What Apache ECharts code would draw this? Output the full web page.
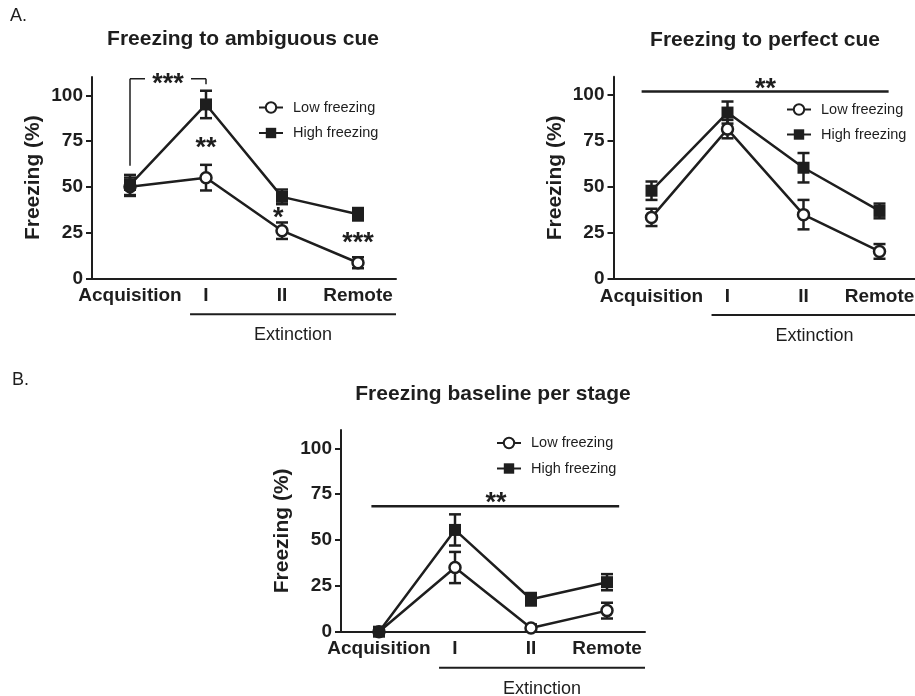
<!DOCTYPE html>
<html>
<head>
<meta charset="utf-8">
<script src="https://cdn.jsdelivr.net/npm/echarts@6/dist/echarts.min.js"></script>
<style>
html,body{margin:0;padding:0;background:#fff;}
#chart{width:915px;height:696px;}
</style>
</head>
<body>
<div id="chart"></div>
<script>
// ---------- data ----------
const categories = ['Acquisition', 'I', 'II', 'Remote'];
const yTicks = [0, 25, 50, 75, 100];
const seriesNames = ['Low freezing', 'High freezing'];

// Panel A1: Freezing to ambiguous cue
const ambLow = [50, 55, 26, 8.5];
const ambLowErr = [5, 7, 4.5, 3];
const ambHigh = [51, 95, 44.5, 35];
const ambHighErr = [5.5, 7.5, 4, 3.4];

// Panel A2: Freezing to perfect cue
const perLow = [33.5, 81.5, 35, 15];
const perLowErr = [4.7, 5, 8, 4];
const perHigh = [48, 90.5, 60.5, 37];
const perHighErr = [5, 6, 8, 4];

// Panel B: Freezing baseline per stage
const baseLow = [0, 35, 2, 11.5];
const baseLowErr = [0, 8.5, 2, 4.3];
const baseHigh = [0, 55.5, 17.7, 27];
const baseHighErr = [0, 8.5, 3.4, 4.4];

// significance annotations: lines [x1, y1, x2, y2] in (category index, value), texts [x, y, label]
const ambSigLines = [[0, 61.5, 0, 109], [0, 109, 1, 109], [1, 109, 1, 106]];
const ambSigTexts = [[0.5, 109, '***'], [1, 74, '**'], [1.95, 35.5, '*'], [3, 22, '***']];
const perSigLines = [[-0.13, 102, 3.12, 102]];
const perSigTexts = [[1.5, 106, '**']];
const baseSigLines = [[-0.1, 68.4, 3.16, 68.4]];
const baseSigTexts = [[1.54, 72.8, '**']];
const extinctionSpan = [0.79, 3.5];
const extinctionLabel = 'Extinction';

const titles = ['Freezing to ambiguous cue', 'Freezing to perfect cue', 'Freezing baseline per stage'];
const yName = 'Freezing (%)';

// ---------- styles ----------
const INK = '#1e1e1e';
const BOLD = 'Liberation Sans';
const REG = 'Liberation Sans';

const grids = [
  {left: 92, top: 77, width: 304, height: 201.3},
  {left: 613.5, top: 76.7, width: 304, height: 202.3},
  {left: 341, top: 430, width: 304, height: 201.7}
];

function xAxisCfg(i) {
  return {
    type: 'category', gridIndex: i, data: categories, boundaryGap: true,
    axisLine: {show: true, lineStyle: {color: INK, width: 2}},
    axisTick: {show: false},
    axisLabel: {color: INK, fontFamily: BOLD, fontWeight: 'bold', fontSize: 19, margin: 8, interval: 0},
    splitLine: {show: false}
  };
}
function yAxisCfg(i) {
  return {
    type: 'value', gridIndex: i, min: 0, max: 110,
    name: yName, nameLocation: 'middle', nameGap: 48,
    nameTextStyle: {color: INK, fontFamily: BOLD, fontWeight: 'bold', fontSize: 21},
    axisLine: {show: true, lineStyle: {color: INK, width: 2}},
    axisTick: {show: true, length: 6, lineStyle: {color: INK, width: 2}, customValues: yTicks},
    axisLabel: {color: INK, fontFamily: BOLD, fontWeight: 'bold', fontSize: 19, margin: 9, customValues: yTicks},
    splitLine: {show: false}
  };
}

function lineSeries(i, name, data, filled) {
  return {
    type: 'line', name: name, xAxisIndex: i, yAxisIndex: i, data: data,
    symbol: filled ? 'rect' : 'circle', symbolSize: filled ? 12 : 11,
    itemStyle: filled ? {color: INK} : {color: '#fff', borderColor: INK, borderWidth: 2.5},
    lineStyle: {color: INK, width: 2.5},
    z: filled ? 4 : 3, animation: false
  };
}

function errSeries(i, mean, err) {
  return {
    type: 'custom', xAxisIndex: i, yAxisIndex: i, z: 2, silent: true, animation: false,
    encode: {x: 0, y: 1},
    data: mean.map((m, k) => [k, m, err[k]]),
    renderItem: function (params, api) {
      const x = api.value(0), m = api.value(1), e = api.value(2);
      if (!e) return null;
      const t = api.coord([x, m + e]), b = api.coord([x, m - e]);
      const hw = 6;
      const st = {stroke: INK, lineWidth: 2.5};
      return {type: 'group', children: [
        {type: 'line', shape: {x1: t[0], y1: t[1], x2: b[0], y2: b[1]}, style: st},
        {type: 'line', shape: {x1: t[0] - hw, y1: t[1], x2: t[0] + hw, y2: t[1]}, style: st},
        {type: 'line', shape: {x1: b[0] - hw, y1: b[1], x2: b[0] + hw, y2: b[1]}, style: st}
      ]};
    }
  };
}

// bgIndex: index of the text that interrupts the bracket line behind it
function annotSeries(i, lines, texts, lineW, bgIndex) {
  return {
    type: 'custom', xAxisIndex: i, yAxisIndex: i, z: 6, silent: true, animation: false, clip: false,
    encode: {x: 0, y: 1},
    data: [[0, 0]],
    renderItem: function (params, api) {
      const p0 = api.coord([0, 0]), p1 = api.coord([1, 0]);
      const step = p1[0] - p0[0];
      const X = v => p0[0] + v * step;
      const Y = v => api.coord([0, v])[1];
      const ch = [];
      lines.forEach(l => ch.push({type: 'line', shape: {x1: X(l[0]), y1: Y(l[1]), x2: X(l[2]), y2: Y(l[3])},
        style: {stroke: INK, lineWidth: lineW}}));
      const fs = 27;
      texts.forEach((t, k) => {
        const bg = k === bgIndex;
        ch.push({type: 'text', x: X(t[0]), y: Y(t[1]) + 0.2 * fs, z2: 10,
          style: {text: t[2], fill: INK, font: 'bold ' + fs + 'px "' + REG + '"', align: 'center', verticalAlign: 'middle'}});
        if (bg) {
          ch.push({type: 'rect', z2: 9, shape: {x: X(t[0]) - 23, y: Y(t[1]) - 4, width: 46, height: 8}, style: {fill: '#fff'}});
        }
      });
      // extinction bracket below the axis
      const y0 = p0[1];
      ch.push({type: 'line', shape: {x1: X(extinctionSpan[0]), y1: y0 + 36, x2: X(extinctionSpan[1]), y2: y0 + 36},
        style: {stroke: INK, lineWidth: 2}});
      ch.push({type: 'text', x: X((extinctionSpan[0] + extinctionSpan[1]) / 2), y: y0 + 57,
        style: {text: extinctionLabel, fill: INK, font: '18px "' + REG + '"', align: 'center', verticalAlign: 'middle'}});
      return {type: 'group', children: ch};
    }
  };
}

function legendCfg(left, top, gap) {
  return {
    left: left, top: top, orient: 'vertical', selectedMode: false,
    itemWidth: 24, itemHeight: 13, itemGap: gap, padding: 0,
    data: seriesNames,
    textStyle: {color: INK, fontFamily: REG, fontSize: 14.5, padding: [0, 0, 0, 5]}
  };
}

function titleCfg(text, cx, top) {
  return {text: text, left: cx, top: top, textAlign: 'center', padding: 0,
    textStyle: {color: INK, fontFamily: BOLD, fontWeight: 'bold', fontSize: 21}};
}

const option = {
  animation: false,
  backgroundColor: '#fff',
  title: [titleCfg(titles[0], 243, 29), titleCfg(titles[1], 765, 30), titleCfg(titles[2], 493, 384)],
  legend: [legendCfg(258, 100, 10.5), legendCfg(786, 102, 10), legendCfg(496, 435.5, 10.5)],
  grid: grids.map(g => Object.assign({containLabel: false, outerBoundsMode: 'none'}, g)),
  xAxis: [0, 1, 2].map(xAxisCfg),
  yAxis: [0, 1, 2].map(yAxisCfg),
  graphic: [
    {type: 'text', left: 10, top: 7, style: {text: 'A.', font: '18px "' + REG + '"', fill: INK}},
    {type: 'text', left: 12, top: 371, style: {text: 'B.', font: '18px "' + REG + '"', fill: INK}}
  ],
  series: [
    errSeries(0, ambLow, ambLowErr), errSeries(0, ambHigh, ambHighErr),
    lineSeries(0, seriesNames[0], ambLow, false), lineSeries(0, seriesNames[1], ambHigh, true),
    annotSeries(0, ambSigLines, ambSigTexts, 1.5, 0),

    errSeries(1, perLow, perLowErr), errSeries(1, perHigh, perHighErr),
    lineSeries(1, seriesNames[0], perLow, false), lineSeries(1, seriesNames[1], perHigh, true),
    annotSeries(1, perSigLines, perSigTexts, 2.5, -1),

    errSeries(2, baseLow, baseLowErr), errSeries(2, baseHigh, baseHighErr),
    lineSeries(2, seriesNames[0], baseLow, false), lineSeries(2, seriesNames[1], baseHigh, true),
    annotSeries(2, baseSigLines, baseSigTexts, 2.5, -1)
  ]
};

const chart = echarts.init(document.getElementById('chart'), null, {renderer: 'canvas'});
chart.setOption(option);
</script>
</body>
</html>
